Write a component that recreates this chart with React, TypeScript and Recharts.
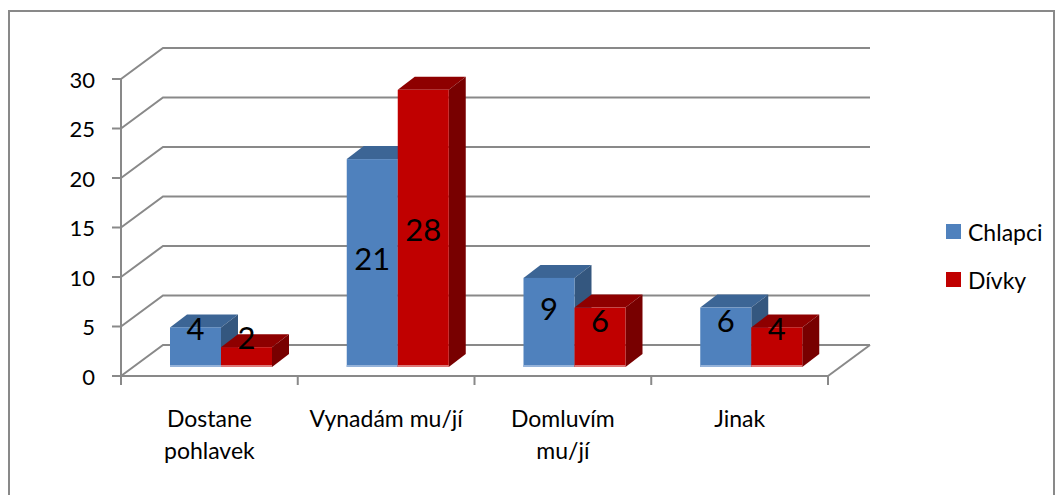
import React from "react";
import { BarChart, Bar, XAxis, YAxis, CartesianGrid, LabelList } from "recharts";

// categories are wrapped the way the original axis wraps them
const categories = ["Dostane\npohlavek", "Vynadám mu/jí", "Domluvím\nmu/jí", "Jinak"];
const chlapci = [4, 21, 9, 6];
const divky = [2, 28, 6, 4];
const yTicks = [0, 5, 10, 15, 20, 25, 30];
const seriesNames = ["Chlapci", "Dívky"];

const data = categories.map((name, i) => ({
  name,
  chlapci: chlapci[i],
  divky: divky[i],
}));

const W = 1061;
const H = 495;
// front plane of the 3D box
const PLOT = { left: 121, right: 828, top: 79, bottom: 376 };
const WALL = { dx: 42, dy: -31 }; // floor / back wall depth
const BAR_SHIFT = { dx: 12, dy: -9 }; // bars stand a bit behind the front plane
const BAR_DEPTH = { dx: 17, dy: -13 };
const GRID = "#898989";
const FONT = "Lato, 'Open Sans', sans-serif";

const BLUE = { front: "#4F81BD", top: "#3C6595", side: "#34577F", glow: "#95B3DA" };
const RED = { front: "#C00000", top: "#8E0000", side: "#780000", glow: "#DC7878" };

const box3D = (c: typeof BLUE) => (props: any) => {
  const { x, y, width, height } = props;
  if (height == null || isNaN(height)) return null;
  const x0 = x + BAR_SHIFT.dx;
  const y0 = y + BAR_SHIFT.dy;
  const x1 = x0 + width;
  const y1 = y0 + height;
  const { dx, dy } = BAR_DEPTH;
  return (
    <g>
      <polygon
        points={`${x0},${y0} ${x0 + dx},${y0 + dy} ${x1 + dx},${y0 + dy} ${x1},${y0}`}
        fill={c.top}
      />
      <polygon
        points={`${x1},${y0} ${x1 + dx},${y0 + dy} ${x1 + dx},${y1 + dy} ${x1},${y1}`}
        fill={c.side}
      />
      <rect x={x0} y={y0} width={width} height={height} fill={c.front} />
      <rect x={x0} y={y1 - 2} width={width} height={2} fill={c.glow} />
    </g>
  );
};

const barLabel = (props: any) => {
  const { x, y, width, height, value } = props;
  const bottom = y + height + BAR_SHIFT.dy;
  const cx = x + BAR_SHIFT.dx + width / 2;
  const cy = bottom - 22 - 0.42 * height;
  return (
    <text
      x={cx}
      y={cy}
      textAnchor="middle"
      dominantBaseline="central"
      fontFamily={FONT}
      fontSize={31}
      fill="#000"
    >
      {value}
    </text>
  );
};

const gridLine = (props: any) => {
  const { x1, y1, x2, index } = props;
  const bx = x1 + WALL.dx;
  const by = y1 + WALL.dy;
  return (
    <g key={`h-${index}`}>
      <polyline
        points={`${x1},${y1} ${bx},${by} ${x2 + WALL.dx},${by}`}
        fill="none"
        stroke={GRID}
        strokeWidth={2}
      />
      {Math.abs(y1 - PLOT.bottom) < 1 && (
        <line x1={x2} y1={y1} x2={x2 + WALL.dx} y2={by} stroke={GRID} strokeWidth={2} />
      )}
    </g>
  );
};

const YTick = (props: any) => {
  const { y, payload } = props;
  return (
    <g>
      <line x1={PLOT.left - 9} y1={y} x2={PLOT.left} y2={y} stroke={GRID} strokeWidth={2} />
      <text
        x={PLOT.left - 26}
        y={y}
        textAnchor="end"
        dominantBaseline="central"
        fontFamily={FONT}
        fontSize={22}
        fill="#000"
      >
        {payload.value}
      </text>
    </g>
  );
};

const XTick = (props: any) => {
  const { x, payload, index } = props;
  const band = (PLOT.right - PLOT.left) / categories.length;
  const lines = String(payload.value).split("\n");
  const edge = (ex: number) => (
    <line x1={ex} y1={PLOT.bottom} x2={ex} y2={PLOT.bottom + 9} stroke={GRID} strokeWidth={2} />
  );
  return (
    <g>
      {edge(x - band / 2)}
      {index === categories.length - 1 && edge(x + band / 2)}
      <text textAnchor="middle" fontFamily={FONT} fontSize={23} fill="#000">
        {lines.map((l, i) => (
          <tspan key={i} x={x} y={427 + i * 32}>
            {l}
          </tspan>
        ))}
      </text>
    </g>
  );
};

export default function App() {
  const legendColors = [BLUE.front, RED.front];
  return (
    <div
      style={{
        position: "absolute",
        left: 0,
        top: 0,
        width: W,
        height: H,
        overflow: "hidden",
        background: "#fff",
      }}
    >
      <div
        style={{
          position: "absolute",
          left: 8,
          top: 10,
          width: 1047,
          height: 520,
          border: `2px solid ${GRID}`,
          boxSizing: "border-box",
        }}
      />
      <div style={{ position: "absolute", left: 0, top: 0 }}>
        <BarChart
          width={W}
          height={H}
          data={data}
          margin={{ top: PLOT.top, right: W - PLOT.right, bottom: 19, left: PLOT.left - 60 }}
          barGap={0}
          barSize={51}
        >
          <CartesianGrid vertical={false} horizontal={gridLine} />
          <YAxis
            domain={[0, 30]}
            ticks={yTicks}
            width={60}
            axisLine={{ stroke: GRID, strokeWidth: 2 }}
            tickLine={false}
            tick={<YTick />}
            interval={0}
          />
          <XAxis
            dataKey="name"
            height={H - PLOT.bottom - 19}
            axisLine={{ stroke: GRID, strokeWidth: 2 }}
            tickLine={false}
            tick={<XTick />}
            interval={0}
          />
          <Bar dataKey="chlapci" shape={box3D(BLUE)} isAnimationActive={false}>
            <LabelList dataKey="chlapci" content={barLabel} />
          </Bar>
          <Bar dataKey="divky" shape={box3D(RED)} isAnimationActive={false}>
            <LabelList dataKey="divky" content={barLabel} />
          </Bar>
        </BarChart>
      </div>
      {/* legend */}
      <div style={{ position: "absolute", left: 946, top: 218, fontFamily: FONT, fontSize: 23 }}>
        {seriesNames.map((n, i) => (
          <div
            key={n}
            style={{ display: "flex", alignItems: "center", height: 27, marginBottom: i === 0 ? 21 : 0 }}
          >
            <div style={{ width: 15, height: 15, background: legendColors[i], marginRight: 7 }} />
            <span>{n}</span>
          </div>
        ))}
      </div>
    </div>
  );
}
